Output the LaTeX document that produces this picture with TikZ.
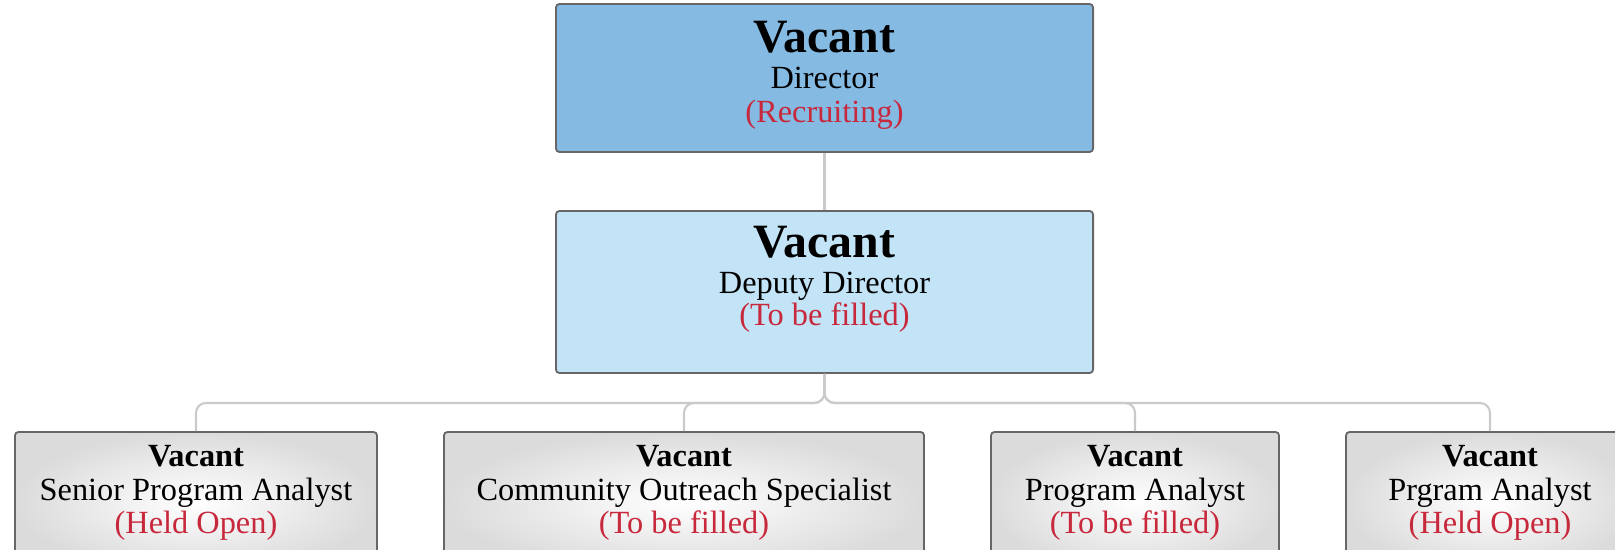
\documentclass[tikz,border=0pt]{standalone}
\usepackage{fontspec}
\setmainfont{Liberation Serif}
\definecolor{boxline}{HTML}{666666}
\definecolor{dirfill}{HTML}{85BAE3}
\definecolor{depfill}{HTML}{C2E4F6}
\definecolor{linkgray}{HTML}{CACACA}
\definecolor{statred}{HTML}{C8283C}
\tikzset{
	box/.style = {draw=boxline, line width=1.3pt, rounded corners=2.5pt, inner sep=0pt},
	dirbox/.style = {box, fill=dirfill, minimum width=13.425cm, minimum height=3.7cm},
	depbox/.style = {box, fill=depfill, minimum width=13.425cm, minimum height=4.05cm},
	staffbox/.style = {box, shade, inner color=white, outer color=gray!28, minimum height=3.5cm},
	link/.style = {draw=linkgray, line width=1.5pt, rounded corners=0.25cm},
	bigvacant/.style = {anchor=base, inner sep=0pt, font=\fontsize{34}{40}\selectfont\bfseries},
	vacant/.style = {anchor=base, inner sep=0pt, font=\fontsize{23}{27}\selectfont\bfseries},
	post/.style = {anchor=base, inner sep=0pt, font=\fontsize{23}{27}\selectfont},
	status/.style = {anchor=base, inner sep=0pt, text=statred, font=\fontsize{23}{27}\selectfont}
}
\begin{document}
\begin{tikzpicture}[x=0.025cm, y=-0.025cm]
	\clip (0,0) rectangle (1615,549);

	% boxes
	\node [dirbox] (dir) at (824.5,78) {};
	\node [depbox] (dep) at (824.5,292) {};
	\node [staffbox, minimum width=9.05cm] (s1) at (196,502) {};
	\node [staffbox, minimum width=12cm] (s2) at (684,502) {};
	\node [staffbox, minimum width=7.2cm] (s3) at (1135,502) {};
	\node [staffbox, minimum width=7.2cm] (s4) at (1490,502) {};

	% links
	\draw [link] (dir.south) -- (dep.north);
	\foreach \s in {s1,s2,s3,s4}
		\draw [link] (dep.south) -- ++(0,29) -| (\s.north);

	% texts
	\node [bigvacant] (dirV) at (824.5,52) {Vacant};
	\node [post] (dirP) at (824.5,88) {Director};
	\node [status] (dirS) at (824.5,122) {(Recruiting)};

	\node [bigvacant] (depV) at (824.5,257) {Vacant};
	\node [post] (depP) at (824.5,293) {Deputy Director};
	\node [status] (depS) at (824.5,325) {(To be filled)};

	\node [vacant] (s1V) at (196,466) {Vacant};
	\node [post] (s1P) at (196,500) {Senior Program Analyst};
	\node [status] (s1S) at (196,533) {(Held Open)};

	\node [vacant] (s2V) at (684,466) {Vacant};
	\node [post] (s2P) at (684,500) {Community Outreach Specialist};
	\node [status] (s2S) at (684,533) {(To be filled)};

	\node [vacant] (s3V) at (1135,466) {Vacant};
	\node [post] (s3P) at (1135,500) {Program Analyst};
	\node [status] (s3S) at (1135,533) {(To be filled)};

	\node [vacant] (s4V) at (1490,466) {Vacant};
	\node [post] (s4P) at (1490,500) {Prgram Analyst};
	\node [status] (s4S) at (1490,533) {(Held Open)};
\end{tikzpicture}
\end{document}
